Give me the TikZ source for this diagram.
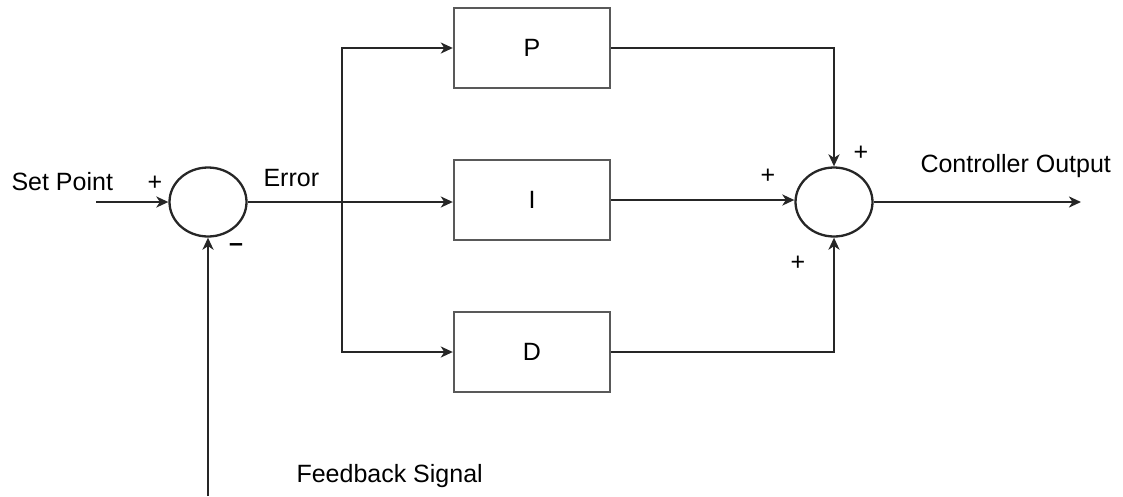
\documentclass[tikz,border=0pt]{standalone}
\usepackage{fontspec}
\setmainfont{Liberation Sans}
\usetikzlibrary{shapes.geometric,arrows.meta}
\begin{document}
\begin{tikzpicture}[x=1pt,y=-1pt,
  every node/.style={font=\fontsize{25}{30}\selectfont},
  sumnode/.style={ellipse,draw=black!85,line width=2.3pt,minimum width=77pt,minimum height=69pt,inner sep=0pt},
  block/.style={rectangle,draw=black!65,line width=2.4pt,minimum width=156pt,minimum height=80pt,inner sep=0pt},
  wire/.style={draw=black!85,line width=2.4pt},
  arr/.style={wire,-{Stealth[length=12pt,width=11pt,inset=3.5pt]}},
  sign/.style={font=\fontsize{25}{28}\selectfont}]
\useasboundingbox (0,0) rectangle (1123,496);
\node[sumnode] (s1) at (208,202) {};
\node[sumnode] (s2) at (834,202) {};
\node[block] (P) at (532,48) {P};
\node[block] (I) at (532,200) {I};
\node[block] (D) at (532,352) {D};
\coordinate (in) at (96,202);
\coordinate (fb) at (208,496);
\coordinate (out) at (1081,202);
\coordinate (br) at (342,202);
\draw[arr] (in) -- (s1.west);
\draw[arr] (fb) -- (s1.south);
\draw[arr] (s1.east) -- (I.west |- s1.east);
\draw[arr] (br) |- (P.west);
\draw[arr] (br) |- (D.west);
\draw[arr] (I.east) -- (s2.west |- I.east);
\draw[arr] (P.east) -| (s2.north);
\draw[arr] (D.east) -| (s2.south);
\draw[arr] (s2.east) -- (out);
\node[anchor=base west] (lsp) at (8,190) {Set Point};
\node[sign] (p1) at (155,183) {+};
\node[anchor=base west] (lerr) at (260,186) {Error};
\node[sign] (m1) at (236,248) {\textbf{–}};
\node[sign] (p2) at (768,176) {+};
\node[sign] (p3) at (861,153) {+};
\node[sign] (p4) at (798,263) {+};
\node[anchor=base west] (lco) at (917,172) {Controller Output};
\node[anchor=base west] (lfb) at (293,482) {Feedback Signal};
\end{tikzpicture}
\end{document}
